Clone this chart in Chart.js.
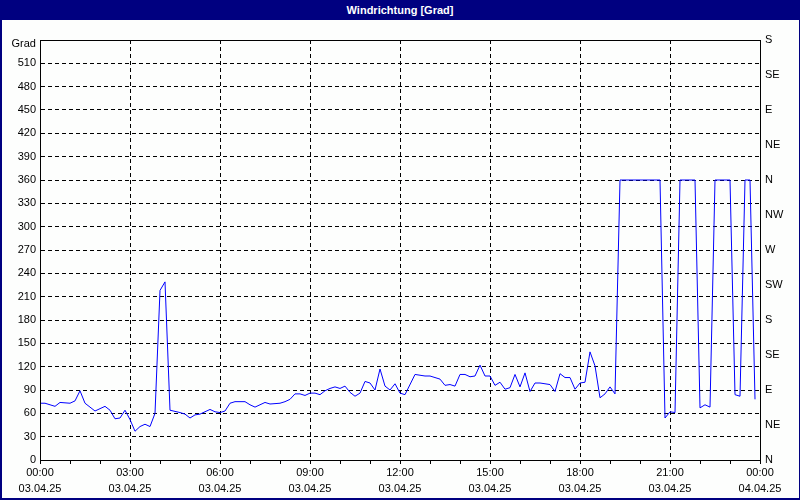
<!DOCTYPE html>
<html>
<head>
<meta charset="utf-8">
<script src="https://cdn.jsdelivr.net/npm/chart.js@4"></script>
<style>
  body { margin: 0; background: #fff; }
  #frame { position: relative; width: 800px; height: 500px; background: #fdfefd; }
  #bar { position: absolute; left: 0; top: 0; width: 800px; height: 20px; background: #000080; color: #fff;
         font: bold 11px "Liberation Sans", sans-serif; text-align: center; line-height: 20px; z-index: 2; }
  #edge { position: absolute; left: 0; top: 0; width: 800px; height: 500px; box-sizing: border-box;
          border: 1px solid #000080; border-width: 0 1px 2px 2px; z-index: 3; pointer-events: none; }
  #unit { position: absolute; right: 764px; top: 37px; font: 11px "Liberation Sans", sans-serif; color: #000; z-index: 2; }
  #wrap { position: absolute; left: 0; top: 0; width: 800px; height: 500px; }
</style>
</head>
<body>
<div id="frame">
  <div id="bar">Windrichtung [Grad]</div>
  <div id="unit">Grad</div>
  <div id="edge"></div>
  <div id="wrap"><canvas id="wind"></canvas></div>
</div>
<script>
// minutes since 03.04.25 00:00
const minutes = [0, 10, 30, 40, 60, 70, 80, 90, 100, 110, 120, 130, 140, 150, 160, 170, 180, 190, 200, 210,
  220, 230, 240, 250, 260, 280, 290, 300, 310, 320, 330, 340, 350, 360, 370, 380, 390, 410, 420, 430,
  440, 450, 460, 480, 490, 500, 510, 520, 530, 540, 550, 560, 570, 580, 590, 600, 610, 620, 630, 640,
  650, 660, 670, 680, 690, 700, 710, 720, 730, 750, 760, 770, 780, 790, 800, 810, 820, 830, 840, 850,
  860, 870, 880, 890, 900, 910, 920, 930, 940, 950, 960, 970, 980, 990, 1000, 1010, 1020, 1030, 1040, 1050,
  1060, 1070, 1080, 1090, 1100, 1110, 1120, 1130, 1140, 1150, 1160, 1240, 1250, 1260, 1270, 1280, 1310, 1320, 1330, 1340,
  1350, 1380, 1390, 1400, 1410, 1420, 1430];
const degrees = [73, 73, 69, 74, 73, 76, 89, 73, 68, 63, 66, 69, 64, 53, 54, 64, 52, 37, 43, 46,
  43, 60, 218, 229, 64, 61, 59, 54, 58, 59, 62, 65, 62, 61, 63, 73, 75, 75, 71, 68,
  71, 74, 72, 73, 75, 78, 85, 85, 83, 86, 86, 84, 89, 92, 94, 92, 95, 87, 82, 86,
  101, 99, 90, 117, 95, 90, 98, 86, 84, 110, 109, 108, 108, 106, 104, 96, 97, 95, 110, 110,
  107, 108, 122, 108, 108, 96, 100, 91, 93, 110, 94, 112, 88, 99, 99, 98, 97, 88, 111, 106,
  106, 91, 99, 100, 139, 121, 80, 85, 94, 85, 360, 360, 54, 62, 61, 360, 360, 67, 71, 68,
  360, 360, 84, 82, 360, 360, 78];

const timeLabels = ['00:00', '03:00', '06:00', '09:00', '12:00', '15:00', '18:00', '21:00', '00:00'];
const dateLabels = ['03.04.25', '03.04.25', '03.04.25', '03.04.25', '03.04.25', '03.04.25', '03.04.25', '03.04.25', '04.04.25'];
const compassLabels = ['N', 'NE', 'E', 'SE', 'S', 'SW', 'W', 'NW', 'N', 'NE', 'E', 'SE', 'S'];

const points = minutes.map((m, i) => ({ x: m, y: degrees[i] }));
const font = { family: '"Liberation Sans Narrow", "Liberation Sans", sans-serif', size: 11 };

// solid frame round the plot area
const frame = {
  id: 'frame',
  afterDatasetsDraw(chart) {
    const a = chart.chartArea, c = chart.ctx;
    c.save();
    c.strokeStyle = '#000';
    c.lineWidth = 1;
    c.strokeRect(Math.round(a.left) + 0.5, Math.round(a.top) + 0.5, Math.round(a.right - a.left), Math.round(a.bottom - a.top));
    c.restore();
  }
};

new Chart(document.getElementById('wind'), {
  type: 'line',
  data: {
    datasets: [{
      data: points,
      borderColor: '#0000ff',
      borderWidth: 1,
      pointRadius: 0,
      tension: 0,
      yAxisID: 'y'
    }]
  },
  options: {
    responsive: true,
    maintainAspectRatio: false,
    animation: false,
    layout: { padding: { top: 40, left: 0, right: 0, bottom: 0 } },
    plugins: { legend: { display: false }, tooltip: { enabled: false }, title: { display: false } },
    scales: {
      x: {
        type: 'linear', min: 0, max: 1440,
        afterFit: s => { s.height = 40; },
        border: { display: true, color: '#000', dash: [4, 3] },
        grid: {
          color: c => (c.tick.value % 180 === 0 && c.tick.value > 0 && c.tick.value < 1440) ? '#000' : 'transparent',
          tickColor: '#000', tickLength: 4, tickBorderDash: []
        },
        ticks: {
          stepSize: 60, autoSkip: false, maxRotation: 0, color: '#000', padding: 1,
          font: { ...font, lineHeight: 1.45 },
          callback: v => v % 180 === 0 ? [timeLabels[v / 180], dateLabels[v / 180]] : ''
        }
      },
      y: {
        position: 'left', min: 0, max: 540,
        afterFit: s => { s.width = 40; },
        border: { display: true, color: '#000', dash: [4, 3] },
        grid: {
          color: c => (c.tick.value > 0 && c.tick.value < 540) ? '#000' : 'transparent',
          drawTicks: false
        },
        ticks: { stepSize: 30, color: '#000', padding: 4, font, callback: v => v === 540 ? '' : v }
      },
      y2: {
        position: 'right', min: 0, max: 540,
        afterFit: s => { s.width = 40; },
        border: { display: true, color: '#000' },
        grid: { drawOnChartArea: false, drawTicks: false },
        ticks: { stepSize: 45, color: '#000', padding: 5, font, callback: v => compassLabels[v / 45] }
      }
    }
  },
  plugins: [frame]
});
</script>
</body>
</html>
